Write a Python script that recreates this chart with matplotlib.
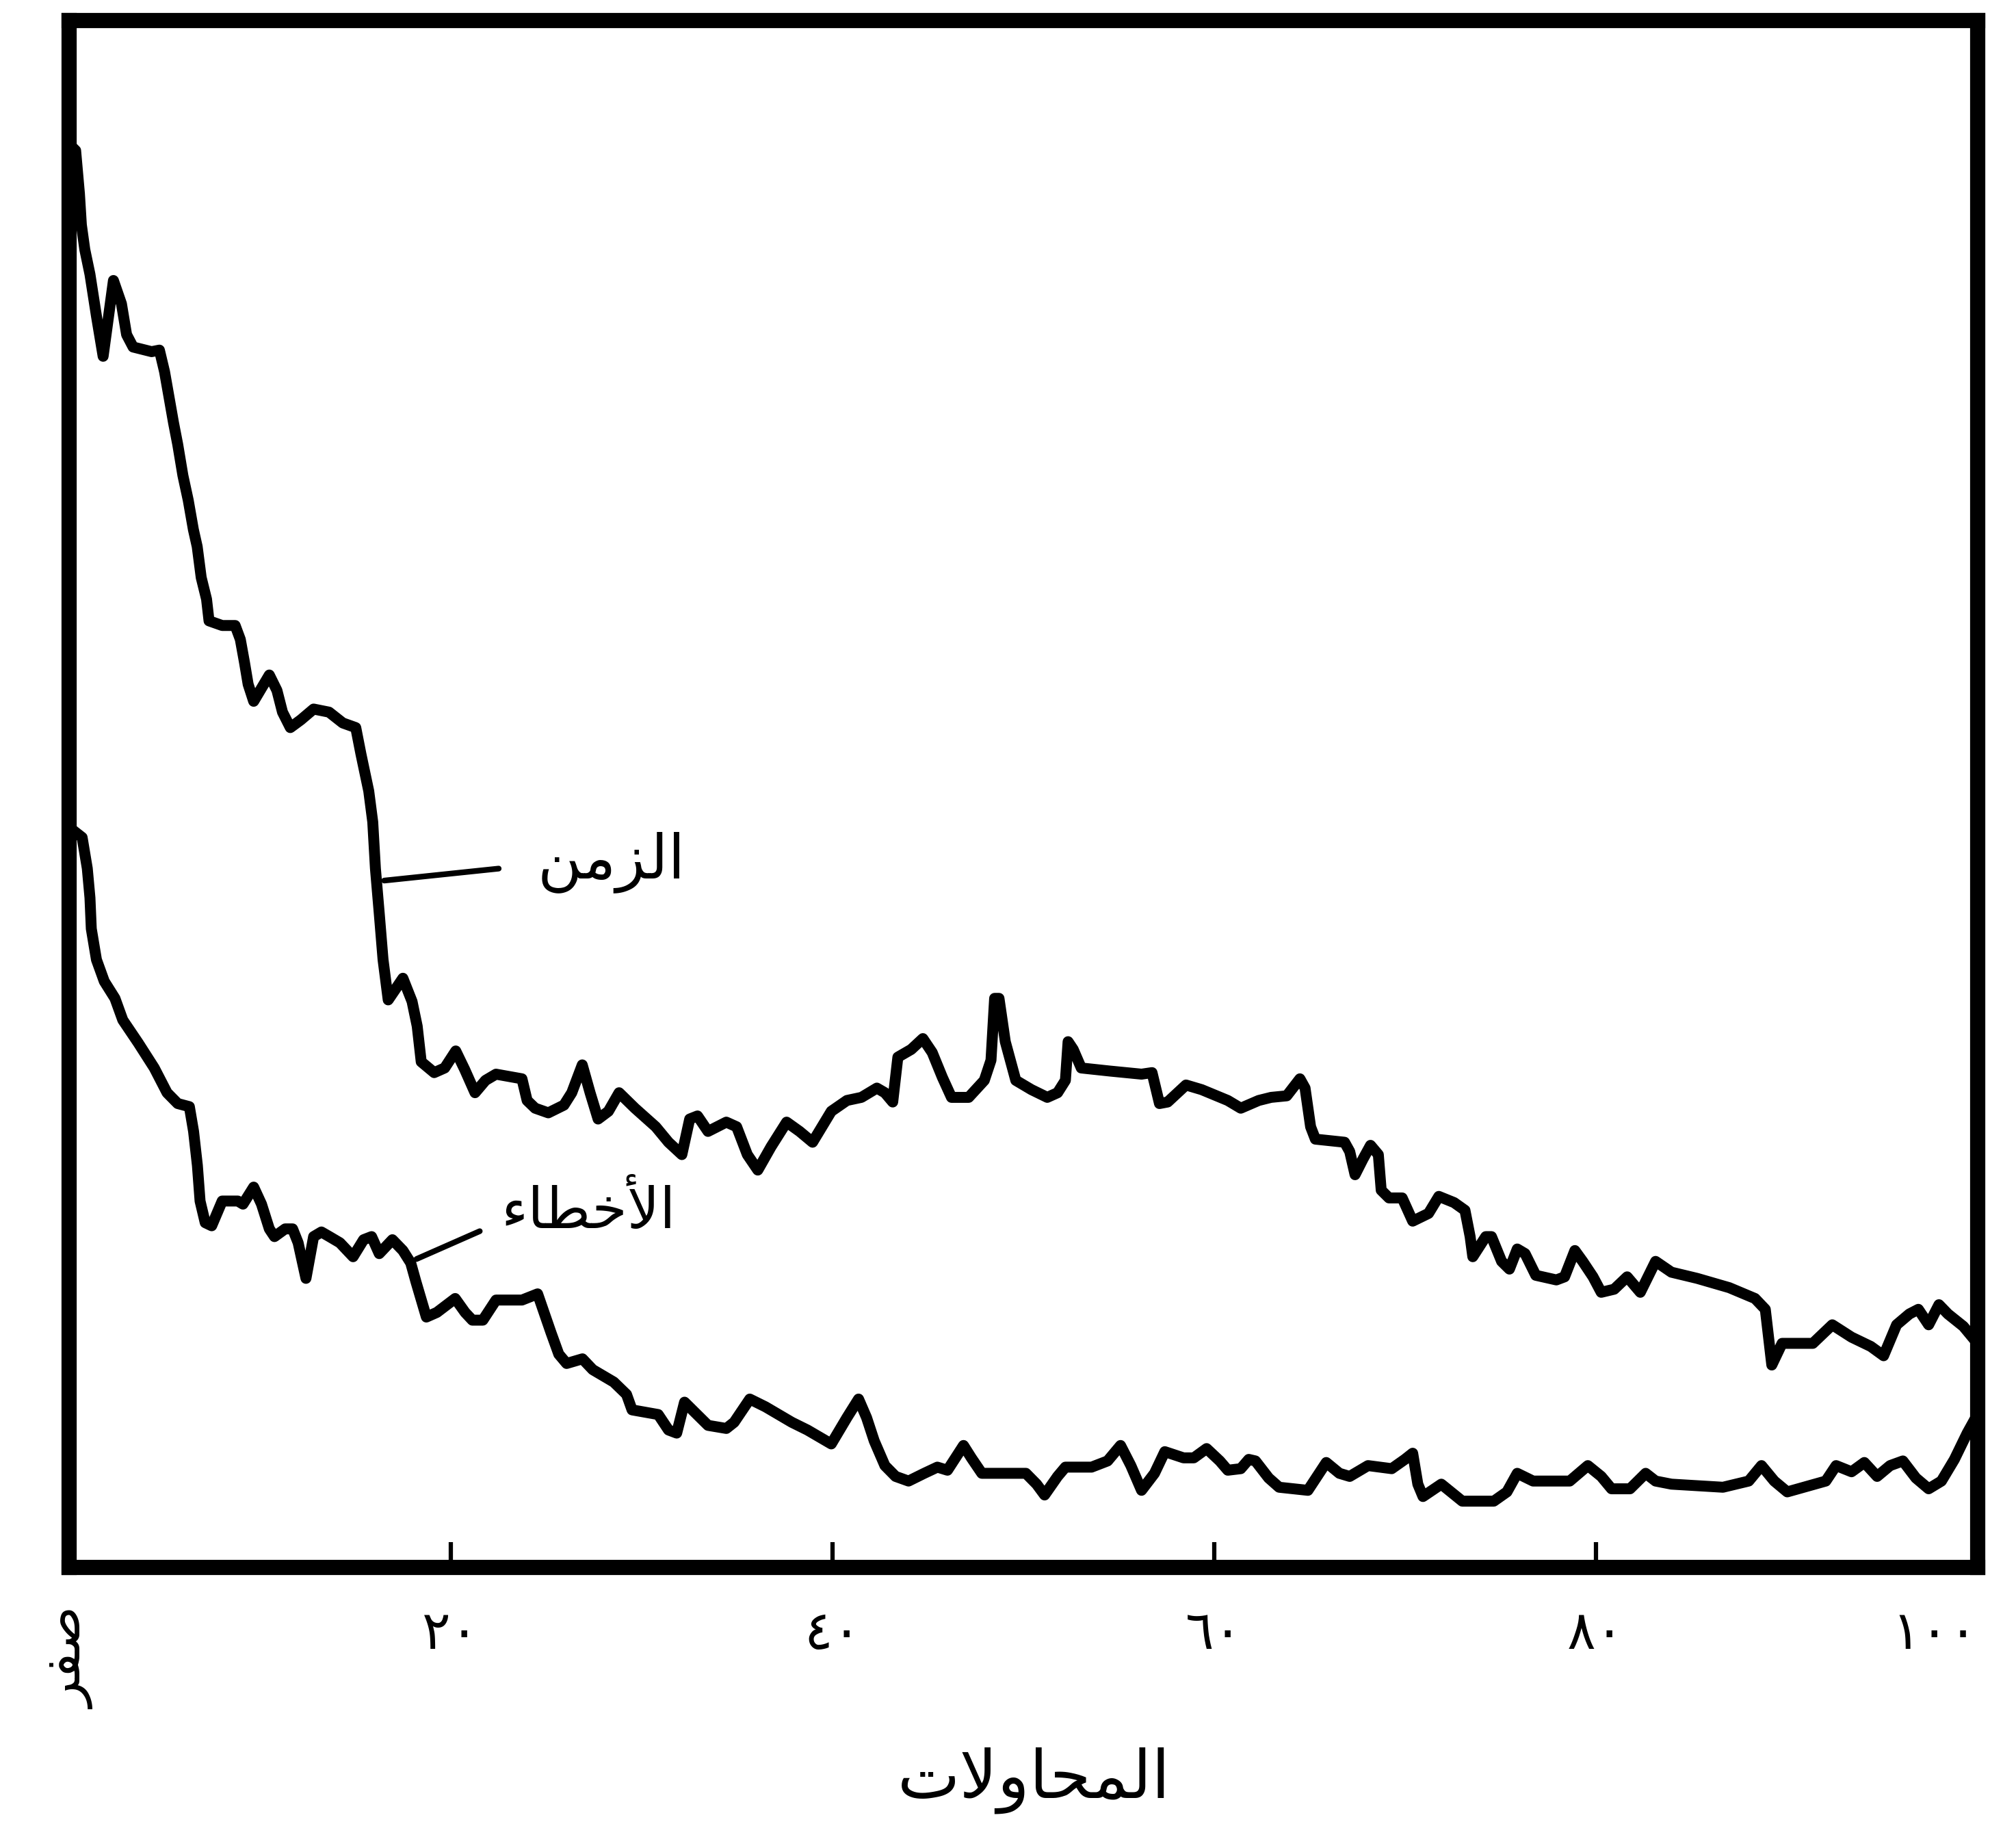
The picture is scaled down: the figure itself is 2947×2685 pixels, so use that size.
import matplotlib
matplotlib.use("Agg")
import matplotlib.pyplot as plt

# ---------------- data (y in arbitrary units 0-100) ----------------
# curve "الزمن" (time)
time_x = [0, 0.33, 0.53, 0.63, 0.81, 1.08, 1.28, 1.42, 1.77, 2.31, 2.73, 3.0, 3.34, 4.31, 4.72,
          4.99, 5.26, 5.46, 5.68, 5.95, 6.23, 6.50, 6.70, 6.91, 7.19, 7.32, 8.01, 8.69, 8.96, 9.18,
          9.37, 9.66, 10.48, 10.88, 11.17, 11.58, 12.13, 12.80, 13.61, 14.33, 15.01, 15.28, 15.69,
          15.90, 16.04, 16.24, 16.44, 16.71, 17.48, 17.96, 18.23, 18.44, 19.12, 19.67, 20.25, 20.72,
          21.26, 21.81, 22.36, 23.72, 23.99, 24.41, 25.10, 25.92, 26.33, 26.88, 27.29, 27.71, 28.25,
          28.81, 29.64, 30.73, 31.40, 32.10, 32.51, 32.92, 33.47, 34.43, 34.97, 35.53, 36.08, 36.77,
          37.59, 38.27, 38.95, 39.93, 40.75, 41.51, 42.32, 42.74, 43.15, 43.42, 44.12, 44.73, 45.22,
          45.75, 46.23, 47.13, 47.95, 48.30, 48.49, 48.72, 49.05, 49.60, 50.42, 51.25, 51.79, 52.20,
          52.34, 52.61, 53.03, 54.54, 56.19, 56.74, 57.13, 57.56, 58.52, 59.34, 60.71, 61.39, 62.33,
          62.98, 63.80, 64.49, 64.76, 65.05, 65.30, 66.83, 67.10, 67.38, 67.79, 68.19, 68.60, 68.75,
          69.16, 69.85, 70.40, 71.23, 71.77, 72.57, 73.14, 73.41, 73.55, 74.23, 74.53, 75.06, 75.47,
          75.88, 76.29, 76.85, 77.93, 78.36, 78.90, 79.31, 79.85, 80.28, 80.96, 81.64, 82.33, 83.13,
          83.96, 85.31, 86.99, 88.34, 88.88, 89.22, 89.76, 91.37, 92.39, 93.40, 94.41, 95.08, 95.76,
          96.43, 96.90, 97.44, 97.98, 98.45, 99.26, 100]
time_y = [92.0, 91.6, 88.8, 86.8, 85.2, 83.6, 82.0, 80.9, 78.3, 83.2, 81.7, 79.7, 78.9, 78.6, 78.7,
          77.3, 75.4, 74.0, 72.6, 70.6, 69.0, 67.1, 66.0, 64.0, 62.6, 61.2, 60.9, 60.9, 60.0, 58.5,
          57.1, 56.0, 57.7, 56.7, 55.3, 54.3, 54.8, 55.5, 55.3, 54.6, 54.3, 52.6, 50.2,
          48.2, 45.2, 42.3, 39.3, 36.7, 38.1, 36.6, 35.0, 32.7, 32.0, 32.3, 33.4, 32.2,
          30.7, 31.5, 31.9, 31.6, 30.2, 29.7, 29.4, 29.9, 30.7, 32.5, 30.7, 29.0, 29.5,
          30.7, 29.7, 28.5, 27.5, 26.7, 29.0, 29.2, 28.2, 28.8, 28.5, 26.7, 25.7, 27.2,
          28.8, 28.2, 27.5, 29.5, 30.2, 30.4, 31.0, 30.7, 30.1, 33.0, 33.5, 34.2, 33.3,
          31.7, 30.4, 30.4, 31.5, 32.8, 36.8, 36.8, 34.0, 31.5, 30.9, 30.4, 30.7, 31.5,
          34.0, 33.5, 32.3, 32.1, 31.9, 32.0, 30.0, 30.1, 31.2, 30.9, 30.2, 29.7, 30.2,
          30.4, 30.5, 31.6, 31.0, 28.5, 27.7, 27.5, 26.9, 25.4, 26.4, 27.3, 26.7, 24.4,
          23.9, 23.9, 22.4, 22.9, 24.0, 23.6, 23.1, 21.4, 20.1, 21.4, 21.4, 19.8, 19.3,
          20.6, 20.3, 18.9, 18.6, 18.8, 20.5, 19.8, 18.8, 17.8, 18.0, 18.8, 17.8, 19.8,
          19.1, 18.7, 18.1, 17.4, 16.7, 13.1, 14.5, 14.5, 15.7, 14.9, 14.3, 13.7, 15.7,
          16.4, 16.7, 15.7, 17.0, 16.4, 15.6, 14.5]

# curve "الأخطاء" (errors)
err_x = [0, 0.05, 0.67, 0.94, 1.08, 1.15, 1.42, 1.83, 2.39, 2.80, 3.62, 4.45, 5.12, 5.68, 6.29,
         6.51, 6.71, 6.85, 7.12, 7.46, 8.01, 8.83, 9.10, 9.66, 10.07, 10.48, 10.75, 11.31, 11.70,
         11.99, 12.40, 12.80, 13.21, 13.63, 14.18, 14.87, 15.42, 15.84, 16.24, 16.93, 17.48, 17.89,
         18.16, 18.71, 19.26, 20.22, 20.74, 21.12, 21.67, 22.36, 23.72, 24.54, 25.24, 25.65, 26.06,
         26.89, 27.43, 28.53, 29.20, 29.49, 30.86, 31.40, 31.83, 32.24, 33.06, 33.47, 34.43, 34.84,
         35.66, 36.48, 37.86, 38.68, 39.93, 40.75, 41.36, 41.78, 42.18, 42.74, 43.30, 43.98, 44.80,
         45.49, 46.02, 46.86, 47.27, 47.82, 49.06, 50.13, 50.69, 51.11, 51.79, 52.20, 53.57, 54.41,
         55.09, 55.63, 56.19, 56.87, 57.41, 58.39, 58.93, 59.60, 60.29, 60.71, 61.39, 61.81, 62.16,
         62.85, 63.40, 64.91, 65.87, 66.56, 67.10, 68.06, 69.30, 69.99, 70.40, 70.67, 70.94, 71.90,
         73.00, 74.65, 75.34, 75.88, 76.71, 78.63, 79.58, 80.28, 80.82, 81.79, 82.61, 83.13, 83.96,
         86.66, 88.01, 88.68, 89.35, 90.03, 92.05, 92.59, 93.40, 94.07, 94.74, 95.42, 96.09, 96.77,
         97.44, 98.11, 98.79, 99.46, 100]
err_y = [48.3, 47.8, 47.2, 45.2, 43.3, 41.3, 39.3, 37.9, 36.8, 35.4, 33.9, 32.3, 30.7, 30.0, 29.8,
         28.2, 26.0, 23.7, 22.3, 22.1, 23.7, 23.7, 23.5, 24.6, 23.5, 21.9, 21.4, 21.9, 21.9,
         21.0, 18.7, 21.4, 21.7, 21.4, 21.0, 20.1, 21.2, 21.4, 20.3, 21.2, 20.5, 19.7,
         18.5, 16.2, 16.5, 17.4, 16.5, 16.0, 16.0, 17.3, 17.3, 17.7, 15.2, 13.8, 13.2,
         13.5, 12.8, 12.0, 11.2, 10.2, 9.9, 8.9, 8.7, 10.7, 9.7, 9.2, 9.0, 9.4,
         10.9, 10.4, 9.4, 8.9, 8.0, 9.7, 10.9, 9.7, 8.2, 6.6, 5.9, 5.6, 6.1,
         6.5, 6.3, 7.9, 7.1, 6.1, 6.1, 6.1, 5.4, 4.7, 5.9, 6.5, 6.5, 6.9,
         7.9, 6.6, 5.0, 6.1, 7.5, 7.1, 7.1, 7.7, 6.9, 6.3, 6.4, 7.0, 6.9,
         5.8, 5.2, 5.0, 6.8, 6.1, 5.9, 6.6, 6.4, 7.0, 7.4, 5.4, 4.6, 5.4,
         4.3, 4.3, 4.9, 6.1, 5.6, 5.6, 6.6, 5.9, 5.1, 5.1, 6.1, 5.6, 5.4,
         5.2, 5.6, 6.6, 5.6, 4.9, 5.6, 6.6, 6.2, 6.8, 5.9, 6.6, 6.9, 5.8,
         5.1, 5.6, 7.0, 8.7, 9.9]

# x ticks: Arabic-Indic numerals, zero written as a word (presentation forms, visual order)
tick_values = [0, 20, 40, 60, 80, 100]
tick_labels = ["\uFEAE\uFED4\uFEBB",          # صفر
               "\u0662\u0660", "\u0664\u0660", "\u0666\u0660", "\u0668\u0660",
               "\u0661\u0660\u0660"]

# labels (Arabic, pre-shaped presentation forms in visual order)
xlabel_text = "\uFE95\uFEFB\uFEED\uFE8E\uFEA4\uFEE4\uFEDF\uFE8D"     # المحاولات
time_label = "\uFEE6\uFEE3\uFEB0\uFEDF\uFE8D"                       # الزمن
err_label = "\uFE80\uFE8E\uFEC4\uFEA7\uFEF7\uFE8D"                  # الأخطاء

# annotation anchors (data units): text position, pointer end on text side, point on curve
time_text_pos = (28.4, 45.6)
time_ptr_from = (22.6, 45.2)
time_ptr_to = (16.4, 44.4)
err_text_pos = (27.2, 23.0)
err_ptr_from = (21.6, 21.8)
err_ptr_to = (18.1, 19.9)

# ---------------- figure ----------------
plt.rcParams['font.family'] = ['DejaVu Sans']
fig = plt.figure(figsize=(29.47, 26.85), dpi=100)
fig.patch.set_facecolor("white")
ax = fig.add_axes([0.0344, 0.1466, 0.9465, 0.8422])

line_kw = dict(color="black", lw=11.5, solid_joinstyle="round", solid_capstyle="round")
ax.plot(time_x, time_y, **line_kw)
ax.plot(err_x, err_y, **line_kw)

ax.set_xlim(0, 100)
ax.set_ylim(0, 100)

for sp in ax.spines.values():
    sp.set_linewidth(16)
    sp.set_color("black")

ax.set_yticks([])
ax.set_xticks(tick_values)
ax.set_xticklabels(tick_labels, fontsize=56)
ax.tick_params(axis="x", direction="in", length=27, width=4.5, pad=42, colors="black")
labels = ax.get_xticklabels()
labels[0].set_rotation(90)
labels[-1].set_horizontalalignment("right")

fig.text(0.513, 0.031, xlabel_text, fontsize=70, ha="center", va="center")

ax.text(*time_text_pos, time_label, fontsize=64, ha="center", va="center")
ax.annotate("", xy=time_ptr_to, xytext=time_ptr_from,
            arrowprops=dict(arrowstyle="-", lw=6, color="black"))
ax.text(*err_text_pos, err_label, fontsize=60, ha="center", va="center")
ax.annotate("", xy=err_ptr_to, xytext=err_ptr_from,
            arrowprops=dict(arrowstyle="-", lw=6, color="black"))

fig.savefig("out.png", dpi=100, facecolor="white")
